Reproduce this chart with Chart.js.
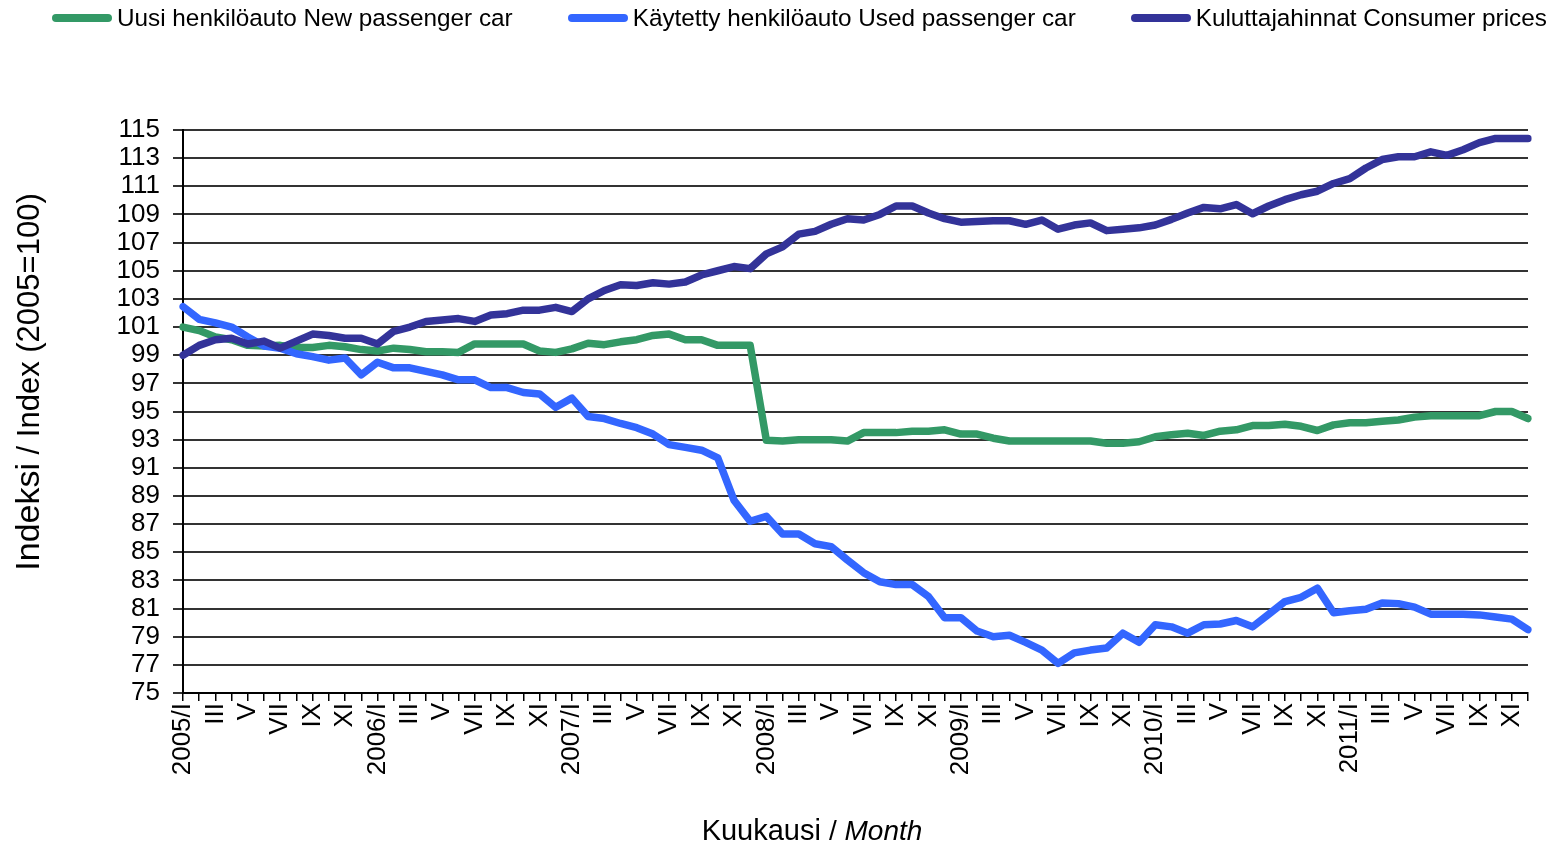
<!DOCTYPE html>
<html>
<head>
<meta charset="utf-8">
<script src="https://cdn.jsdelivr.net/npm/chart.js@4.4.0/dist/chart.umd.min.js"></script>
<style>
  body { margin: 0; background: #fff; }
  #wrap { position: relative; width: 1559px; height: 848px; }
  #legend { position: absolute; left: 52px; top: 6px; display: flex; gap: 55px;
            font: 24.3px "Liberation Sans", Arial, sans-serif; line-height: 24px; color: #000; }
  .item { display: flex; align-items: center; white-space: nowrap; }
  .swatch { width: 60px; height: 8px; border-radius: 4px; margin-right: 5px; }
</style>
</head>
<body>
<div id="wrap">
  <canvas id="chart" width="1559" height="848"></canvas>
  <div id="legend"></div>
</div>
<script>
// data, monthly 2005/I - 2011/XII
const years = [2005, 2006, 2007, 2008, 2009, 2010, 2011];
const months = ['I', 'II', 'III', 'IV', 'V', 'VI', 'VII', 'VIII', 'IX', 'X', 'XI', 'XII'];

const newCar = [
  101.0, 100.75, 100.3, 100.1, 99.7, 99.65, 99.7, 99.55, 99.55, 99.7, 99.6, 99.4,
  99.3, 99.5, 99.4, 99.25, 99.25, 99.2, 99.8, 99.8, 99.8, 99.8, 99.3, 99.2,
  99.45, 99.85, 99.75, 99.95, 100.1, 100.4, 100.5, 100.1, 100.1, 99.7, 99.7, 99.7,
  92.95, 92.9, 93.0, 93.0, 93.0, 92.9, 93.5, 93.5, 93.5, 93.6, 93.6, 93.7,
  93.4, 93.4, 93.1, 92.9, 92.9, 92.9, 92.9, 92.9, 92.9, 92.75, 92.75, 92.85,
  93.2, 93.35, 93.45, 93.3, 93.6, 93.7, 94.0, 94.0, 94.1, 93.95, 93.65, 94.05,
  94.2, 94.2, 94.3, 94.4, 94.6, 94.7, 94.7, 94.7, 94.7, 95.0, 95.0, 94.5
];
const usedCar = [
  102.45, 101.55, 101.3, 101.0, 100.3, 99.65, 99.5, 99.1, 98.9, 98.65, 98.8, 97.6,
  98.5, 98.1, 98.1, 97.85, 97.6, 97.25, 97.25, 96.7, 96.7, 96.35, 96.25, 95.3,
  95.95, 94.65, 94.5, 94.15, 93.85, 93.4, 92.65, 92.45, 92.25, 91.7, 88.7, 87.2,
  87.55, 86.3, 86.3, 85.6, 85.4, 84.45, 83.55, 82.9, 82.7, 82.7, 81.85, 80.35,
  80.35, 79.4, 79.0, 79.1, 78.6, 78.05, 77.1, 77.85, 78.05, 78.2, 79.25, 78.6,
  79.85, 79.7, 79.25, 79.85, 79.9, 80.15, 79.7, 80.6, 81.5, 81.8, 82.45, 80.7,
  80.85, 80.95, 81.4, 81.35, 81.1, 80.6, 80.6, 80.6, 80.55, 80.4, 80.25, 79.5
];
const consumer = [
  99.0, 99.7, 100.1, 100.2, 99.8, 100.0, 99.5, 100.0, 100.5, 100.4, 100.2, 100.2,
  99.8, 100.7, 101.0, 101.4, 101.5, 101.6, 101.4, 101.85, 101.95, 102.2, 102.2, 102.4,
  102.1, 103.0, 103.6, 104.0, 103.95, 104.15, 104.05, 104.2, 104.7, 105.0, 105.3, 105.15,
  106.2, 106.7, 107.6, 107.8, 108.3, 108.7, 108.6, 109.0, 109.6, 109.6, 109.1, 108.7,
  108.45, 108.5, 108.55, 108.55, 108.3, 108.6, 107.95, 108.25, 108.4, 107.85, 107.95, 108.05,
  108.25, 108.65, 109.1, 109.5, 109.4, 109.7, 109.05, 109.6, 110.05, 110.4, 110.65, 111.2,
  111.55, 112.3, 112.9, 113.1, 113.1, 113.45, 113.2, 113.6, 114.1, 114.4, 114.4, 114.4
];

const seriesNames = ['Uusi henkilöauto New passenger car', 'Käytetty henkilöauto Used passenger car', 'Kuluttajahinnat Consumer prices'];
const seriesColors = ['#339966', '#3366ff', '#333399'];
const yMin = 75, yMax = 115, yStep = 2;

const labels = years.flatMap(y => months.map((m, i) => i === 0 ? y + '/' + m : m));

Chart.defaults.font.family = '"Liberation Sans", Arial, sans-serif';
Chart.defaults.color = '#000';

// axis titles with mixed font sizes / italic
const axisTitles = {
  id: 'axisTitles',
  afterDraw(chart) {
    const ctx = chart.ctx;
    const drawParts = (parts, cx, cy, rotate) => {
      ctx.save();
      ctx.translate(cx, cy);
      if (rotate) ctx.rotate(-Math.PI / 2);
      ctx.textBaseline = 'middle';
      ctx.textAlign = 'left';
      ctx.fillStyle = '#000';
      let total = 0;
      parts.forEach(p => { ctx.font = p[1]; total += ctx.measureText(p[0]).width; });
      let x = -total / 2;
      parts.forEach(p => { ctx.font = p[1]; ctx.fillText(p[0], x, 0); x += ctx.measureText(p[0]).width; });
      ctx.restore();
    };
    const f = '"Liberation Sans", Arial, sans-serif';
    drawParts([['Indeksi', '34px ' + f], [' / Index (2005=100)', '31px ' + f]], 30, 382, true);
    drawParts([['Kuukausi ', '29px ' + f], ['/ ', '28px ' + f], ['Month', 'italic 28px ' + f]], 812, 832, false);
  }
};

const ds = [newCar, usedCar, consumer].map((data, i) => ({
  label: seriesNames[i],
  data: data,
  borderColor: seriesColors[i],
  backgroundColor: seriesColors[i],
  borderWidth: 7.5,
  pointRadius: 0,
  tension: 0,
  borderJoinStyle: 'round',
  borderCapStyle: 'round',
  order: 2 - i
}));

const chart = new Chart(document.getElementById('chart'), {
  type: 'line',
  data: { labels: labels, datasets: ds },
  options: {
    responsive: false,
    animation: false,
    layout: { padding: { top: 130, right: 31, bottom: 0, left: 0 } },
    plugins: { legend: { display: false }, tooltip: { enabled: false } },
    scales: {
      x: {
        afterFit(scale) { scale.height = 155; scale.paddingRight = 0; },
        grid: { drawOnChartArea: false, drawTicks: true, tickLength: 8, color: '#000', lineWidth: 1.5 },
        border: { display: true, color: '#000', width: 2 },
        ticks: {
          autoSkip: false, maxRotation: 90, minRotation: 90, padding: 2,
          font: { size: 26 },
          callback(value, index) { return index % 2 === 0 ? this.getLabelForValue(value) : ''; }
        }
      },
      y: {
        min: yMin, max: yMax,
        afterFit(scale) { scale.width = 183; },
        grid: { color: '#333', lineWidth: 2, tickLength: 10 },
        border: { display: true, color: '#000', width: 2 },
        ticks: { stepSize: yStep, autoSkip: false, padding: 13, font: { size: 26 } }
      }
    }
  },
  plugins: [axisTitles]
});

// legend above the plot
const legend = document.getElementById('legend');
seriesNames.forEach((name, i) => {
  const item = document.createElement('div');
  item.className = 'item';
  const sw = document.createElement('span');
  sw.className = 'swatch';
  sw.style.background = seriesColors[i];
  const tx = document.createElement('span');
  tx.textContent = name;
  item.appendChild(sw);
  item.appendChild(tx);
  legend.appendChild(item);
});
</script>
</body>
</html>
